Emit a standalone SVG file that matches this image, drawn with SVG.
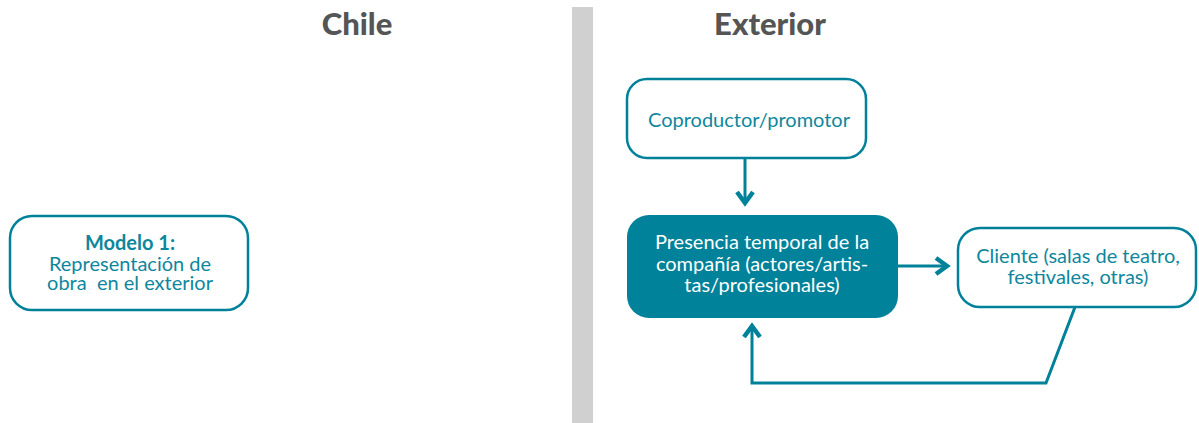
<svg xmlns="http://www.w3.org/2000/svg" width="1199" height="423" viewBox="0 0 1199 423">
<style>
.box{fill:#fff;stroke:#00819a;stroke-width:2.5}
.fill{fill:#00829b;stroke:none}
.t{font-family:Lato,"Open Sans",sans-serif;font-size:20px;fill:#0e879d;text-anchor:middle}
.w{fill:#fff}
.h{font-family:Lato,"Open Sans",sans-serif;font-size:31px;font-weight:900;fill:#555;text-anchor:middle}
.c{fill:none;stroke:#00819a;stroke-width:3}
</style>
<defs>
<marker id="ah2" viewBox="0 0 20 20" refX="16" refY="10" markerWidth="20" markerHeight="20" markerUnits="userSpaceOnUse" orient="auto">
<path d="M4,2 L15,10 L4,18" fill="none" stroke="#00819a" stroke-width="4.5"/>
</marker>
</defs>
<rect x="572" y="7" width="21" height="416" fill="#d0d0d0"/>
<text class="h" x="357" y="35">Chile</text>
<text class="h" x="770" y="35">Exterior</text>
<g id="modelo">
<rect class="box" x="10" y="216" width="238" height="94" rx="22"/>
<text class="t" x="130" y="250" font-weight="bold">Modelo 1:</text>
<text class="t" x="130" y="270.5">Representación de</text>
<text class="t" x="130" y="290" xml:space="preserve">obra  en el exterior</text>
</g>
<g id="coproductor">
<rect class="box" x="627" y="79" width="239" height="79" rx="20"/>
<text class="t" x="749" y="127">Coproductor/promotor</text>
</g>
<g id="presencia">
<rect class="fill" x="627" y="215" width="271" height="103" rx="22"/>
<text class="t w" x="762" y="249">Presencia temporal de la</text>
<text class="t w" x="762" y="271">compañía (actores/artis-</text>
<text class="t w" x="762" y="292">tas/profesionales)</text>
</g>
<g id="cliente">
<rect class="box" x="958" y="228" width="238" height="79" rx="22"/>
<text class="t" x="1078" y="263">Cliente (salas de teatro,</text>
<text class="t" x="1078" y="284">festivales, otras)</text>
</g>
<g id="connectors">
<path class="c" d="M745,158 L745,204" marker-end="url(#ah2)"/>
<path class="c" d="M898,266 L948,266" marker-end="url(#ah2)"/>
<path class="c" d="M1075,307 L1046,383 L752,383 L752,325" marker-end="url(#ah2)"/>
</g>
</svg>
